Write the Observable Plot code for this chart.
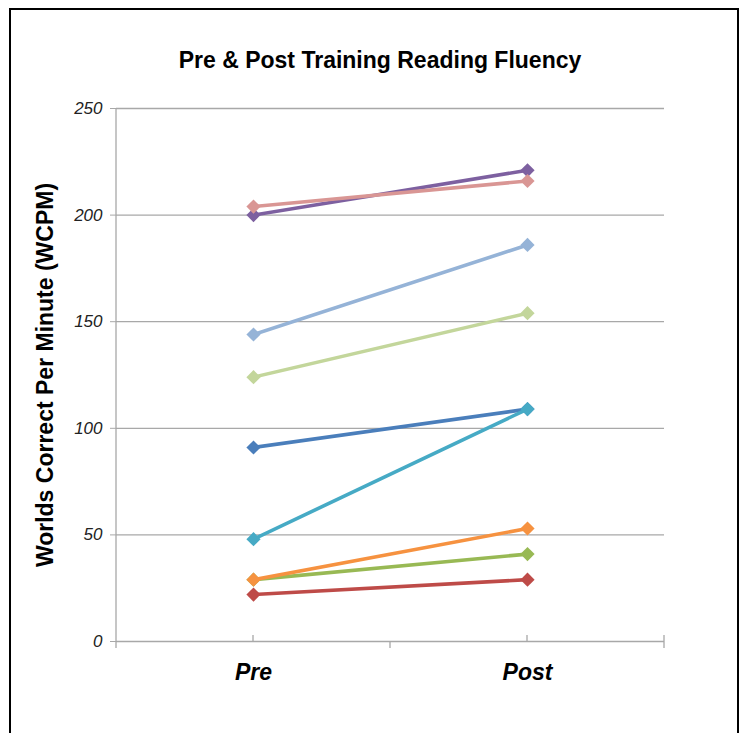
<!DOCTYPE html>
<html><head><meta charset="utf-8">
<script src="https://cdn.jsdelivr.net/npm/d3@7"></script>
<script src="https://cdn.jsdelivr.net/npm/@observablehq/plot@0.6"></script>
<style>
body{margin:0;background:#fff;font-family:"Liberation Sans",Arial,sans-serif;}
#wrap{position:relative;width:743px;height:733px;overflow:hidden;background:#fff;}
#frame{position:absolute;left:9px;top:8px;width:730px;height:780px;border:2px solid #000;box-sizing:border-box;}
#title{position:absolute;left:0;width:760px;top:49px;text-align:center;font-size:23px;line-height:23px;font-weight:bold;color:#000;}
#chart{position:absolute;left:0;top:90px;}
</style>
</head><body>
<div id="wrap"><div id="frame"></div><div id="title">Pre &amp; Post Training Reading Fluency</div><div id="chart"></div></div>
<script>
const phases = ["Pre", "Post"];
const students = ["S1","S2","S3","S4","S5","S6","S7","S8","S9"];
const preScores  = [91, 22, 29, 200, 48, 29, 144, 204, 124];
const postScores = [109, 29, 41, 221, 109, 53, 186, 216, 154];
const seriesColors = ["#4A7EBB","#BE4B48","#98B954","#7D60A0","#46AAC5","#F69240","#95B3D7","#D99694","#C3D69B"];
const yTicks = [0, 50, 100, 150, 200, 250];
const yLabel = "Worlds Correct Per Minute (WCPM)";

const table = [];
students.forEach((s, i) => {
  table.push({student: s, phase: phases[0], wcpm: preScores[i], color: seriesColors[i], order: i});
  table.push({student: s, phase: phases[1], wcpm: postScores[i], color: seriesColors[i], order: i});
});

const GRID = "#A8A8A8";

function decor(index, scales, values, dims) {
  const left = dims.marginLeft, right = dims.width - dims.marginRight;
  const top = dims.marginTop, bottom = dims.height - dims.marginBottom;
  const mid = (left + right) / 2;
  const g = d3.create("svg:g").attr("stroke", GRID).attr("stroke-width", 1.3).attr("fill", "none");
  g.append("line").attr("x1", left).attr("x2", left).attr("y1", top).attr("y2", bottom + 7);
  g.append("line").attr("x1", mid).attr("x2", mid).attr("y1", bottom).attr("y2", bottom + 7);
  g.append("line").attr("x1", right).attr("x2", right).attr("y1", bottom - 6).attr("y2", bottom + 7);
  for (const p of phases) {
    const x = scales.x(p);
    g.append("line").attr("x1", x).attr("x2", x).attr("y1", bottom - 6).attr("y2", bottom);
  }
  return g.node();
}

const chart = Plot.plot({
  width: 743,
  height: 643,
  marginTop: 18,
  marginBottom: 92,
  marginLeft: 116,
  marginRight: 79,
  style: {fontFamily: '"Liberation Sans", Arial, sans-serif', background: "transparent", overflow: "visible"},
  x: {type: "point", domain: phases, padding: 0.5, label: null},
  y: {domain: [0, 250], label: null},
  color: {type: "identity"},
  marks: [
    Plot.ruleY(yTicks, {stroke: GRID, strokeWidth: 1.3}),
    decor,
    Plot.axisY(yTicks, {tickSize: 6, tickPadding: 8, stroke: GRID, fill: "#222", fontSize: 17, fontStyle: "italic", label: null, tickFormat: d => String(d)}),
    Plot.axisX({tickSize: 0, tickPadding: 22, fontSize: 23, fontWeight: "bold", fontStyle: "italic", fill: "#000", label: null}),
    Plot.text([yLabel], {frameAnchor: "left", textAnchor: "middle", rotate: -90, dx: -71, fontSize: 23, fontWeight: "bold", fill: "#000"}),
    ...students.map((s, i) => [
      Plot.line(table.filter(d => d.student === s), {x: "phase", y: "wcpm", stroke: "color", strokeWidth: 3.6}),
      Plot.dot(table.filter(d => d.student === s), {x: "phase", y: "wcpm", fill: "color", symbol: "diamond2", r: 6.4, stroke: null})
    ]).flat()
  ]
});
document.getElementById("chart").appendChild(chart);
</script>
</body></html>
